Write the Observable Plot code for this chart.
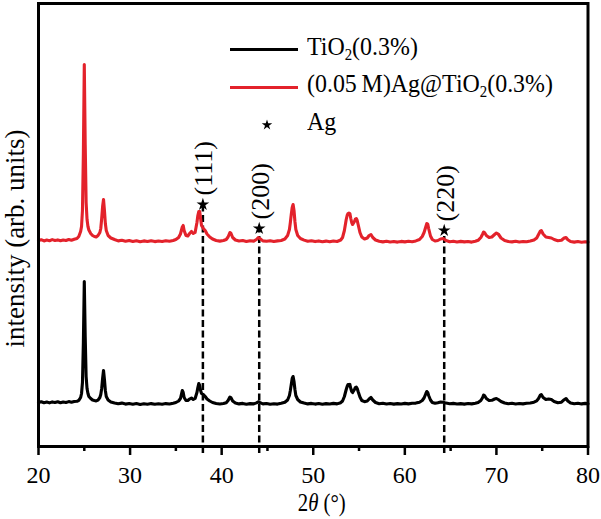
<!DOCTYPE html>
<html><head><meta charset="utf-8">
<script src="https://cdn.jsdelivr.net/npm/d3@7"></script>
<script src="https://cdn.jsdelivr.net/npm/@observablehq/plot@0.6"></script>
<style>
body{margin:0;background:#fff;}
#wrap{position:relative;width:601px;height:519px;font-family:"Liberation Serif","Times New Roman",serif;color:#000;}
.legend{position:absolute;left:230px;top:31px;}
.row{display:flex;align-items:center;height:37.5px;}
.sw{width:68px;height:3px;}
.swstar{width:68px;height:12px;display:flex;justify-content:center;align-items:center;padding-left:6px;box-sizing:border-box;}
.lt{margin-left:9px;font-size:26px;white-space:nowrap;transform:scaleX(0.92);transform-origin:left center;position:relative;top:-3px;line-height:1;}
.lt sub{font-size:0.62em;vertical-align:-0.3em;line-height:0;}
</style></head>
<body><div id="wrap"><div id="chart"></div><div class="legend" id="legend"></div></div>
<script>
// 2θ (degrees)
const twoTheta = [
20.0,20.3,20.6,20.9,21.2,21.5,21.8,22.1,22.4,22.7,23.0,23.3,23.6,23.9,24.2,
24.4,24.6,24.7,24.8,24.9,25.0,25.1,25.2,25.3,25.4,25.5,25.7,25.9,26.1,26.3,
26.5,26.7,26.8,26.9,27.0,27.1,27.2,27.3,27.4,27.6,27.9,28.3,28.7,29.1,29.5,
29.9,30.3,30.7,31.1,31.5,31.9,32.3,32.7,33.1,33.5,33.9,34.3,34.7,35.0,35.3,
35.5,35.6,35.7,35.8,35.9,36.1,36.3,36.5,36.7,36.9,37.1,37.3,37.4,37.5,37.6,
37.7,37.8,38.0,38.2,38.4,38.7,39.0,39.4,39.8,40.2,40.5,40.7,40.9,41.0,41.2,
41.5,41.9,42.3,42.7,43.1,43.5,43.8,44.0,44.2,44.5,44.9,45.3,45.7,46.1,46.5,
46.9,47.2,47.4,47.5,47.6,47.7,47.8,47.9,48.0,48.1,48.3,48.6,49.0,49.4,49.8,
50.2,50.6,51.0,51.4,51.8,52.2,52.6,53.0,53.2,53.4,53.6,53.7,53.8,53.9,54.0,
54.1,54.2,54.3,54.5,54.6,54.7,54.8,54.9,55.1,55.3,55.6,55.9,56.1,56.3,56.5,
56.8,57.2,57.6,58.0,58.4,58.8,59.2,59.6,60.0,60.4,60.8,61.2,61.6,61.9,62.1,
62.3,62.4,62.5,62.6,62.8,63.0,63.3,63.6,63.9,64.2,64.5,64.9,65.3,65.7,66.1,
66.5,66.9,67.3,67.7,68.0,68.3,68.5,68.6,68.7,68.9,69.2,69.5,69.8,70.0,70.2,
70.5,70.9,71.3,71.7,72.1,72.5,72.9,73.3,73.7,74.1,74.4,74.6,74.8,74.9,75.1,
75.4,75.7,76.0,76.3,76.7,77.1,77.4,77.6,77.8,78.1,78.5,78.9,79.3,79.7,80.0
];
// TiO2(0.3%) intensity (arb. units)
const tio2 = [
44,44.8,43.8,44.5,43.6,44.6,44,44.8,43.7,44.5,44,44.9,44.2,45,45.2,
46.2,49,53,64,104,165,110,70,58,53,50,48,46.5,46,45.6,
46.4,49,52,58,68,76,67,56,50,46.5,44.5,43.5,42.8,43.4,42.4,
43,42.2,42.9,42.1,42.8,42.2,42.9,42.3,42.8,42.2,42.9,42.5,43.3,44,45.5,
48,52,56,54,49,46,46,47.5,48.5,47,48,54,59,63,61,
56,53,52,50,47.5,45.5,44,43,42.5,43,43.8,46,49.5,49,45.5,
43.5,42.6,43.1,42.3,42.9,42.6,43.6,44.6,43.8,42.6,43,42.3,42.8,42.4,43.2,
44.2,46.5,51,56,62,68,70,65,57,51,47,44.5,43.4,42.6,43.1,
42.4,43,42.3,42.9,42.5,43.1,42.6,43.8,45.5,50,57,60,62,61,62,
58,55,54,57,59,59.5,58,55,49.5,46,44.8,45.5,47.5,49,46.5,
44,42.8,43.2,42.5,43,42.4,42.9,42.5,43.1,42.6,43.2,43.4,44.3,46,48.5,
53,55,54,51,46.5,44,43.2,43.8,44.5,44.3,43.4,42.7,43.1,42.5,42.9,
42.4,43,42.6,43.2,44,46,49,51.5,51,48,46,46.2,47.5,48,47,
45,43.5,42.8,43.2,42.5,43,42.6,43.2,43.5,44.3,45.6,48,51.5,52,49,
47,47.5,47,45,43.8,44.3,46.8,48,45.5,43.5,42.8,43.3,42.6,43.1,42.7
];
// (0.05 M)Ag@TiO2(0.3%) intensity (arb. units, stacked)
const agTio2 = [
206,206.8,205.6,206.4,205.8,206.9,206,206.6,205.7,206.5,206,207,206.2,207.2,208,
210,215,220,236,293,382,302,244,227,220,216.5,213,211,210,209.6,
211,214,218,228,240,247,236,223,216,211,208.5,207,205.6,206.2,205.2,
205.9,205,205.7,204.8,205.6,205,205.8,204.9,205.5,205,205.8,205.2,206,207,209,
212.5,216,219.5,221,216,211,210.5,213,215,213,214,224,231,235,235,
228,221,218,216,212.5,209.5,207.5,206,205.4,206,207,209.5,214,213.5,209,
206.5,205.5,206,205,205.8,205.4,207,209,207.8,205.6,205.2,205.8,205,205.6,206,
207.5,211,217,224,232,239,242,236,225,217,211,208,206.4,205.2,205.8,
204.9,205.6,204.8,205.4,204.7,205.5,205,206.5,209,216,227,231,233,233.5,233,
228,224,222,225,227.5,228,226,222,214,209.5,207.5,208.5,211,212,209,
206.5,205.2,204.6,205.2,204.5,205,204.4,205.1,204.6,205.2,204.8,205.6,207,210,214,
220,223,222.5,218,210.5,207,205.5,206,207.5,208,206,204.8,205.3,204.5,205.1,
204.6,205,204.4,205.2,206.2,209,212.5,214.5,214,211,209,209.5,212,213.5,212.5,
208.5,206,205,204.6,205.2,204.5,205,204.7,205.4,206.4,208.5,212,215.5,216,212.5,
209.5,209,208.5,207,205.8,206.2,208.5,209,206.8,205,204.4,205,204.3,204.8,204.5
];
// Ag reflections
const agAngles = [37.95, 44.1, 64.3];
const agLabels = ["(111)", "(200)", "(220)"];
const agMarkLevel = [242, 218, 216];
// axis
const xTicks = [20, 30, 40, 50, 60, 70, 80];
const xMinorTicks = [25, 35, 45, 55, 65, 75];
const yTitle = "intensity (arb. units)";
const seriesNames = ["TiO<sub>2</sub>(0.3%)", "(0.05\u2009M)Ag@TiO<sub>2</sub>(0.3%)"];
const agName = "Ag";
const colors = ["#000000", "#e3222b"];

const rows = twoTheta.map((t, i) => ({t, b: tio2[i], r: agTio2[i]}));
const ag = agAngles.map((a, i) => ({angle: a, hkl: agLabels[i], mark: agMarkLevel[i]}));
const font = "'Liberation Serif','Times New Roman',serif";

const plot = Plot.plot({
  width: 601, height: 519,
  marginLeft: 38, marginRight: 13.5, marginTop: 3, marginBottom: 73,
  style: {fontFamily: font, fontSize: "24px", background: "white", color: "black", overflow: "visible"},
  x: {domain: [20, 80]},
  y: {domain: [0, 443], axis: null},
  marks: [
    Plot.ruleX(ag, {x: "angle", y1: 0, y2: "mark", insetTop: 7, stroke: "black", strokeWidth: 2.5, strokeDasharray: "7,3.5"}),
    Plot.line(rows, {x: "t", y: "b", stroke: colors[0], strokeWidth: 3.1, strokeLinejoin: "round"}),
    Plot.line(rows, {x: "t", y: "r", stroke: colors[1], strokeWidth: 3.1, strokeLinejoin: "round"}),
    Plot.dot(ag, {x: "angle", y: "mark", symbol: "star", r: 4, fill: "black", stroke: "none"}),
    Plot.text(ag, {x: "angle", y: "mark", text: "hkl", rotate: -90, textAnchor: "start", dy: -9, dx: 1, fontSize: 26, fill: "black"}),
    Plot.frame({stroke: "black", strokeWidth: 3}),
    Plot.axisX({ticks: xTicks, tickSize: 9, tickPadding: 10, strokeWidth: 2.5, fontSize: 24, label: null, tickFormat: d => String(d)}),
    Plot.axisX({ticks: xMinorTicks, tickSize: 5, strokeWidth: 2.5, text: null, label: null})
  ]
});
document.getElementById("chart").appendChild(plot);

const svg = d3.select(plot);
const xs = plot.scale("x");
const ys = plot.scale("y");
// y-axis title
svg.append("text")
  .attr("transform", `translate(15,${(ys.range[0] + ys.range[1]) / 2 + 14}) rotate(-90)`)
  .attr("text-anchor", "middle")
  .attr("dominant-baseline", "central")
  .attr("font-size", 27)
  .attr("fill", "black")
  .text(yTitle);
// x-axis title with italic theta
const cx = (xs.range[0] + xs.range[1]) / 2 + 9;
const t = svg.append("text")
  .attr("transform", `translate(${cx},511) scale(0.8,1)`)
  .attr("text-anchor", "middle")
  .attr("font-size", 26)
  .attr("fill", "black");
t.append("tspan").text("2");
t.append("tspan").attr("font-style", "italic").text("\u03b8");
t.append("tspan").text(" (\u00b0)");

// legend
const starPath = d3.symbol(d3.symbolStar, 34)();
const leg = document.getElementById("legend");
leg.innerHTML =
  seriesNames.map((n, i) => `<div class="row"><div class="sw" style="background:${colors[i]}"></div><div class="lt">${n}</div></div>`).join("") +
  `<div class="row"><div class="swstar"><svg width="12" height="12" viewBox="-6 -6 12 12"><path d="${starPath}" fill="black"/></svg></div><div class="lt">${agName}</div></div>`;
</script></body></html>
